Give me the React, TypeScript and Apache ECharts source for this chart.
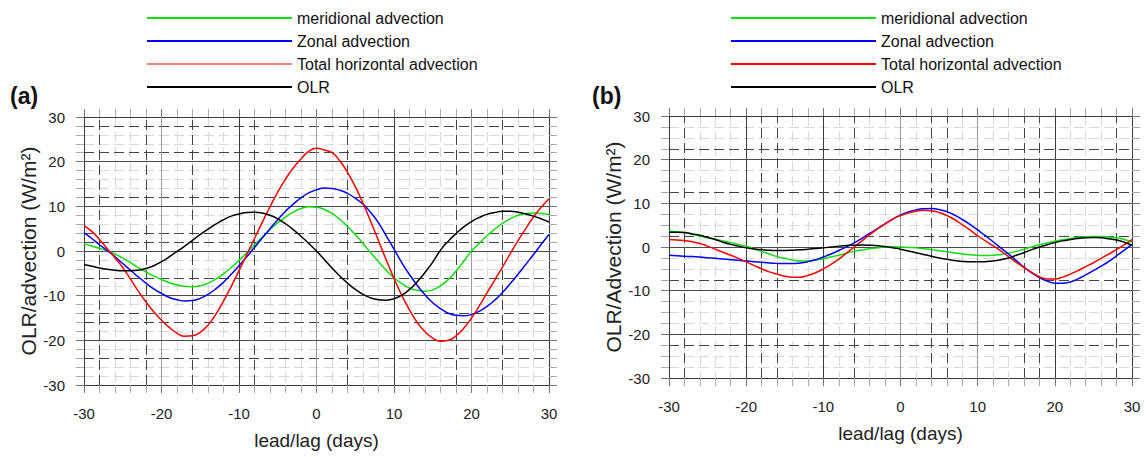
import React, { useEffect, useRef } from 'react';
import * as echarts from 'echarts';

// Lead/lag axis (days), one value per day
const lags = [
  -30, -29, -28, -27, -26, -25, -24, -23, -22, -21, -20, -19, -18, -17, -16, -15, -14, -13, -12, -11,
  -10, -9, -8, -7, -6, -5, -4, -3, -2, -1, 0, 1, 2, 3, 4, 5, 6, 7, 8, 9,
  10, 11, 12, 13, 14, 15, 16, 17, 18, 19, 20, 21, 22, 23, 24, 25, 26, 27, 28, 29, 30,
];

const seriesNames = ['meridional advection', 'Zonal advection', 'Total horizontal advection', 'OLR'];

// Panel (a)
const meridionalA = [
  1.6, 1.1, 0.6, 0.05, -0.7, -1.6, -2.6, -3.7, -4.7, -5.6, -6.4, -7.1, -7.6, -7.9, -8.0, -7.8, -7.2, -6.3, -5.1, -3.7,
  -2.1, -0.4, 1.4, 3.1, 4.8, 6.3, 7.6, 8.7, 9.5, 9.9, 9.8, 9.3, 8.4, 7.1, 5.5, 3.7, 1.7, -0.4, -2.4, -4.3,
  -6.0, -7.3, -8.3, -8.8, -9.0, -8.7, -7.8, -6.4, -4.5, -2.3, 0.0, 1.7, 3.4, 4.9, 6.2, 7.2, 8.0, 8.4, 8.5, 8.4, 8.1,
];
const zonalA = [
  4.1, 2.8, 1.4, 0.1, -1.3, -2.8, -4.3, -5.8, -7.2, -8.5, -9.5, -10.4, -10.9, -11.2, -11.1, -10.6, -9.7, -8.5, -7.0, -5.2,
  -3.3, -1.3, 0.8, 2.9, 5.0, 7.0, 8.9, 10.5, 11.9, 13.0, 13.7, 14.1, 14.0, 13.6, 12.9, 11.8, 10.5, 8.6, 6.3, 3.4,
  0.4, -2.6, -5.3, -7.7, -9.8, -11.6, -12.9, -13.9, -14.4, -14.5, -14.2, -13.5, -12.4, -11.0, -9.3, -7.3, -5.2, -3.0, -0.8, 1.5, 3.7,
];
const totalA = [
  5.7, 4.4, 2.6, 0.5, -1.5, -3.7, -6.3, -9.0, -11.4, -13.6, -15.5, -17.1, -18.4, -19.1, -19.0, -18.2, -16.6, -14.2, -11.2, -7.9,
  -4.4, -0.8, 2.8, 6.4, 9.9, 13.2, 16.1, 18.6, 20.6, 22.3, 23.0, 22.6, 22.0, 20.2, 17.6, 14.4, 10.7, 6.6, 2.3, -2.0,
  -6.1, -9.9, -13.2, -16.0, -18.1, -19.5, -20.2, -20.0, -19.0, -17.3, -15.0, -12.3, -9.4, -6.5, -3.6, -0.6, 2.3, 5.0, 7.6, 9.8, 11.7,
];
const olrA = [
  -3.0, -3.4, -3.8, -4.1, -4.3, -4.4, -4.4, -4.3, -3.9, -3.3, -2.4, -1.3, -0.1, 1.1, 2.4, 3.7, 4.9, 6.0, 7.0, 7.8,
  8.3, 8.6, 8.7, 8.5, 8.0, 7.2, 6.1, 4.8, 3.3, 1.7, 0.0, -1.9, -3.8, -5.6, -7.2, -8.6, -9.7, -10.5, -10.9, -11.0,
  -10.7, -9.9, -8.6, -6.9, -4.8, -2.5, 0.2, 2.2, 3.9, 5.4, 6.6, 7.5, 8.2, 8.6, 8.9, 8.9, 8.7, 8.3, 7.8, 7.2, 6.5,
];

// Panel (b)
const meridionalB = [
  3.6, 3.5, 3.3, 2.9, 2.5, 2.1, 1.8, 1.4, 1.0, 0.6, 0.15, -0.4, -1.0, -1.6, -2.2, -2.6, -3.0, -3.2, -3.2, -3.0,
  -2.7, -2.3, -1.9, -1.4, -1.0, -0.7, -0.4, -0.2, 0.0, 0.05, 0.0, -0.1, -0.2, -0.4, -0.6, -0.85, -1.1, -1.35, -1.6, -1.8,
  -1.9, -1.95, -1.9, -1.7, -1.4, -1.0, -0.5, 0.0, 0.5, 0.9, 1.3, 1.65, 1.95, 2.2, 2.35, 2.4, 2.4, 2.3, 2.1, 1.7, 1.1,
];
const zonalB = [
  -1.9, -2.0, -2.1, -2.2, -2.3, -2.45, -2.6, -2.75, -2.9, -3.05, -3.2, -3.35, -3.5, -3.65, -3.75, -3.8, -3.8, -3.65, -3.35, -2.9,
  -2.3, -1.6, -0.8, 0.05, 0.95, 2.0, 3.1, 4.2, 5.3, 6.4, 7.3, 8.0, 8.5, 8.75, 8.8, 8.6, 8.1, 7.3, 6.3, 5.2,
  3.9, 2.6, 1.2, -0.2, -1.6, -3.1, -4.6, -5.9, -7.0, -7.8, -8.3, -8.3, -8.0, -7.3, -6.4, -5.4, -4.4, -3.3, -2.0, -0.7, 0.6,
];
const totalB = [
  1.7, 1.6, 1.5, 1.2, 0.8, 0.2, -0.5, -1.2, -1.9, -2.6, -3.4, -4.2, -5.0, -5.7, -6.2, -6.7, -6.9, -6.9, -6.5, -5.9,
  -5.0, -4.0, -2.8, -1.4, 0.0, 1.4, 2.8, 4.1, 5.3, 6.4, 7.2, 7.8, 8.2, 8.4, 8.3, 7.9, 7.2, 6.3, 5.1, 3.9,
  2.6, 1.4, 0.3, -0.9, -2.2, -3.5, -4.7, -5.8, -6.8, -7.3, -7.3, -6.9, -6.2, -5.4, -4.5, -3.6, -2.6, -1.6, -0.6, 0.5, 1.7,
];
const olrB = [
  3.4, 3.4, 3.3, 3.0, 2.7, 2.2, 1.7, 1.1, 0.6, 0.2, -0.2, -0.45, -0.6, -0.75, -0.8, -0.8, -0.75, -0.65, -0.5, -0.35,
  -0.2, 0.0, 0.2, 0.35, 0.4, 0.45, 0.4, 0.3, 0.1, -0.2, -0.5, -0.9, -1.3, -1.7, -2.1, -2.5, -2.8, -3.1, -3.3, -3.4,
  -3.4, -3.35, -3.2, -2.9, -2.5, -1.9, -1.3, -0.6, 0.0, 0.5, 1.0, 1.4, 1.7, 1.95, 2.1, 2.15, 2.1, 1.9, 1.6, 1.1, 0.4,
];

// Emphasised grid lines of each panel
const solidDarkXA = [-10, 10];
const solidGrayXA = [-20, 0, 20];
const dashedDarkXA = [-28, -22, -16, -8, 4, 18, 24];
const solidYA = [20, 10, 0, -10, -20];
const dashedDarkYA = [28, 22, 12, 4, 2, -6, -14, -16, -24];

const solidDarkXB = [-20, -10, 20];
const solidGrayXB = [0, 10];
const dashedDarkXB = [-28, -18, -16, -6, 4, 6, 16, 18, 28];
const solidYB = [20, 10, 0, -10, -20];
const dashedDarkYB = [22.5, 12.5, 2.5, -7.5, -22.5];

const COLORS = ['#11dd11', '#0000ff', '#ff0000', '#000000'];
const FONT = '"Liberation Sans", Arial, Helvetica, sans-serif';

const DARK = '#3a3a3a';
const GRAY = '#9a9a9a';
const DASH = [10, 5];

function pairs(values: number[]) {
  return values.map((v, i) => [lags[i], v]);
}

function xAxisPair(gridIndex: number) {
  const common = {
    type: 'value',
    gridIndex,
    min: -30,
    max: 30,
    interval: 10,
    axisLine: { show: true, onZero: false, lineStyle: { color: DARK, width: 1 } },
    axisTick: { show: true, inside: false, length: 8, lineStyle: { color: '#777' } },
    minorTick: { show: true, splitNumber: 5, length: 8, lineStyle: { color: '#aaa' } },
  };
  return [
    {
      ...common,
      position: 'bottom',
      axisLabel: { show: true, margin: 21, fontSize: 15, color: '#222', fontFamily: FONT },
      splitLine: { show: false },
      minorSplitLine: { show: true, lineStyle: { color: '#d9d9d9', type: DASH } },
      name: 'lead/lag (days)',
      nameLocation: 'middle',
      nameGap: 46,
      nameTextStyle: { fontSize: 19, color: '#222', fontFamily: FONT },
    },
    {
      ...common,
      position: 'top',
      axisLabel: { show: false },
      splitLine: { show: false },
      minorSplitLine: { show: false },
    },
  ];
}

function yAxisPair(gridIndex: number, minorSplit: number, title: string) {
  const common = {
    type: 'value',
    gridIndex,
    min: -30,
    max: 30,
    interval: 10,
    axisLine: { show: true, onZero: false, lineStyle: { color: DARK, width: 1 } },
    axisTick: { show: true, inside: false, length: 8, lineStyle: { color: '#777' } },
    minorTick: { show: true, splitNumber: minorSplit, length: 8, lineStyle: { color: '#aaa' } },
  };
  return [
    {
      ...common,
      position: 'left',
      axisLabel: { show: true, margin: 19, fontSize: 15, color: '#222', fontFamily: FONT },
      splitLine: { show: false },
      minorSplitLine: { show: true, lineStyle: { color: '#d9d9d9', type: DASH } },
      name: title,
      nameLocation: 'middle',
      nameGap: 41,
      nameRotate: 90,
      nameTextStyle: { fontSize: 21, color: '#222', fontFamily: FONT },
    },
    {
      ...common,
      position: 'right',
      axisLabel: { show: false },
      splitLine: { show: false },
      minorSplitLine: { show: false },
    },
  ];
}

function gridLines(
  solidDarkX: number[],
  solidGrayX: number[],
  dashedX: number[],
  solidY: number[],
  dashedY: number[],
) {
  const data: any[] = [];
  dashedX.forEach((v) => data.push({ xAxis: v, lineStyle: { color: '#444', type: DASH, width: 1 } }));
  dashedY.forEach((v) => data.push({ yAxis: v, lineStyle: { color: '#444', type: DASH, width: 1 } }));
  solidGrayX.forEach((v) => data.push({ xAxis: v, lineStyle: { color: GRAY, type: 'solid', width: 1 } }));
  solidDarkX.forEach((v) => data.push({ xAxis: v, lineStyle: { color: DARK, type: 'solid', width: 1 } }));
  solidY.forEach((v) => data.push({ yAxis: v, lineStyle: { color: '#4a4a4a', type: 'solid', width: 1 } }));
  return {
    silent: true,
    symbol: ['none', 'none'],
    label: { show: false },
    emphasis: { disabled: true },
    data,
  };
}

function panelSeries(axisIndex: number, values: number[][], lines: any) {
  const list: any[] = values.map((vals, i) => ({
    name: seriesNames[i],
    type: 'line',
    xAxisIndex: axisIndex,
    yAxisIndex: axisIndex,
    data: pairs(vals),
    smooth: true,
    showSymbol: false,
    color: COLORS[i],
    lineStyle: { width: 1.5, color: COLORS[i] },
    z: 10,
    silent: true,
  }));
  list.push({
    name: 'gridlines',
    type: 'line',
    xAxisIndex: axisIndex,
    yAxisIndex: axisIndex,
    data: [],
    showSymbol: false,
    markLine: lines,
    z: 1,
    silent: true,
  });
  return list;
}

function legendAt(left: number, totalColor: string) {
  return {
    orient: 'vertical',
    left,
    top: 3,
    padding: 5,
    itemWidth: 145,
    itemHeight: 2,
    itemGap: 3,
    icon: 'rect',
    selectedMode: false,
    textStyle: { fontSize: 16, color: '#111', fontFamily: FONT, lineHeight: 20 },
    data: [
      { name: seriesNames[0] },
      { name: seriesNames[1] },
      { name: seriesNames[2], itemStyle: { color: totalColor } },
      { name: seriesNames[3] },
    ],
  };
}

export default function App() {
  const ref = useRef<HTMLDivElement>(null);

  useEffect(() => {
    if (!ref.current) return;
    const chart = echarts.init(ref.current, undefined, { renderer: 'svg' });

    const xa = xAxisPair(0);
    const xb = xAxisPair(1);
    const ya = yAxisPair(0, 5, 'OLR/advection (W/m²)');
    const yb = yAxisPair(1, 4, 'OLR/Advection (W/m²)');

    const option: any = {
      animation: false,
      backgroundColor: '#ffffff',
      textStyle: { fontFamily: FONT },
      grid: [
        { left: 84, top: 117, width: 465, height: 268, show: false, outerBoundsMode: 'none' },
        { left: 669, top: 116, width: 463, height: 262, show: false, outerBoundsMode: 'none' },
      ],
      legend: [legendAt(142, '#ff7f7f'), legendAt(726, '#ff0000')],
      xAxis: [xa[0], xa[1], xb[0], xb[1]],
      yAxis: [ya[0], ya[1], yb[0], yb[1]],
      series: [
        ...panelSeries(
          0,
          [meridionalA, zonalA, totalA, olrA],
          gridLines(solidDarkXA, solidGrayXA, dashedDarkXA, solidYA, dashedDarkYA),
        ),
        ...panelSeries(
          2,
          [meridionalB, zonalB, totalB, olrB],
          gridLines(solidDarkXB, solidGrayXB, dashedDarkXB, solidYB, dashedDarkYB),
        ),
      ],
      graphic: [
        {
          type: 'text',
          left: 10,
          top: 84,
          style: { text: '(a)', fill: '#111', font: `bold 23px ${FONT}` },
        },
        {
          type: 'text',
          left: 592,
          top: 84,
          style: { text: '(b)', fill: '#111', font: `bold 23px ${FONT}` },
        },
      ],
    };

    chart.setOption(option);
    return () => chart.dispose();
  }, []);

  return (
    <div
      ref={ref}
      style={{ position: 'absolute', left: 0, top: 0, width: 1147, height: 457, background: '#fff' }}
    />
  );
}
